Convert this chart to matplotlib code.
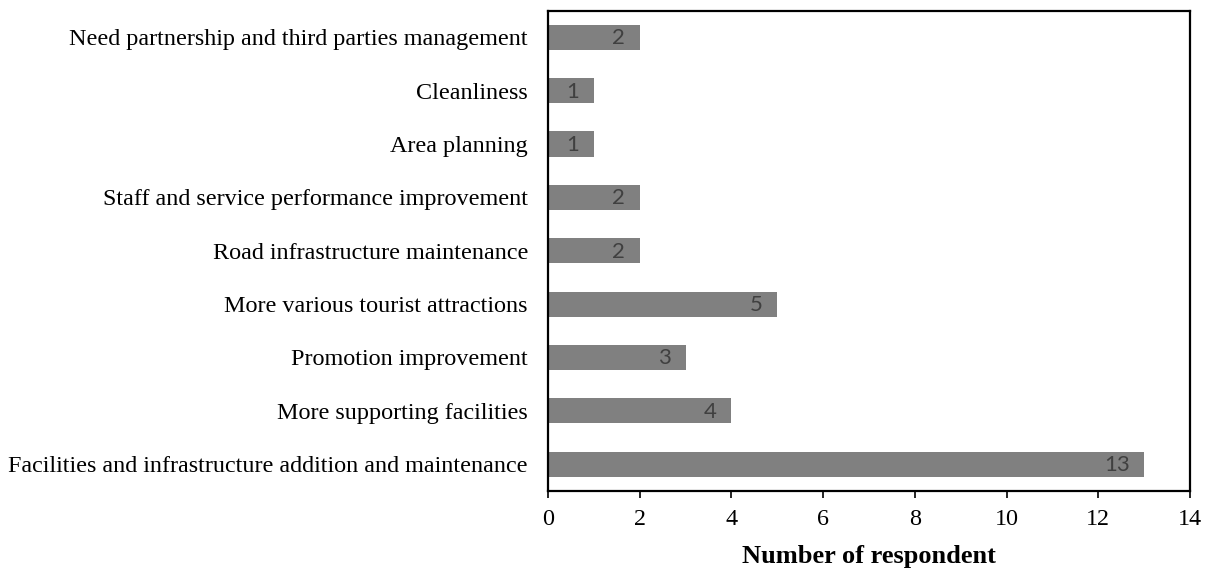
import matplotlib
matplotlib.use("Agg")
import matplotlib.pyplot as plt

categories = [
    "Facilities and infrastructure addition and maintenance",
    "More supporting facilities",
    "Promotion improvement",
    "More various tourist attractions",
    "Road infrastructure maintenance",
    "Staff and service performance improvement",
    "Area planning",
    "Cleanliness",
    "Need partnership and third parties management",
]
respondents = [13, 4, 3, 5, 2, 2, 1, 1, 2]
x_ticks = [0, 2, 4, 6, 8, 10, 12, 14]

plt.rcParams["font.family"] = ["Liberation Serif", "DejaVu Serif"]

fig = plt.figure(figsize=(12.11, 5.69), dpi=100)
ax = fig.add_axes([0.4525, 0.1376, 0.5302, 0.8436])

pos = list(range(len(categories)))
bars = ax.barh(pos, respondents, height=0.47, color="#808080")

# value labels sit just inside the end of each bar
for rect, v in zip(bars, respondents):
    ax.text(rect.get_width() - 0.32, rect.get_y() + rect.get_height() / 2 - 0.02, str(v),
            ha="right", va="center", fontsize=16, color="#404040",
            family=["Lato", "DejaVu Sans"])

ax.set_yticks(pos)
ax.set_yticklabels(categories, fontsize=17.4)
ax.set_xticks(x_ticks)
ax.set_xticklabels([str(t) for t in x_ticks], fontsize=17.4)
ax.set_xlim(0, 14)
ax.set_ylim(-0.5, len(categories) - 0.5)

ax.tick_params(axis="y", length=0, pad=14.4)
ax.tick_params(axis="x", direction="out", length=5, width=1.2, pad=8)
for s in ax.spines.values():
    s.set_linewidth(1.6)

ax.set_xlabel("Number of respondent", fontsize=19, fontweight="bold", labelpad=11)

fig.savefig("out.png", dpi=100)
